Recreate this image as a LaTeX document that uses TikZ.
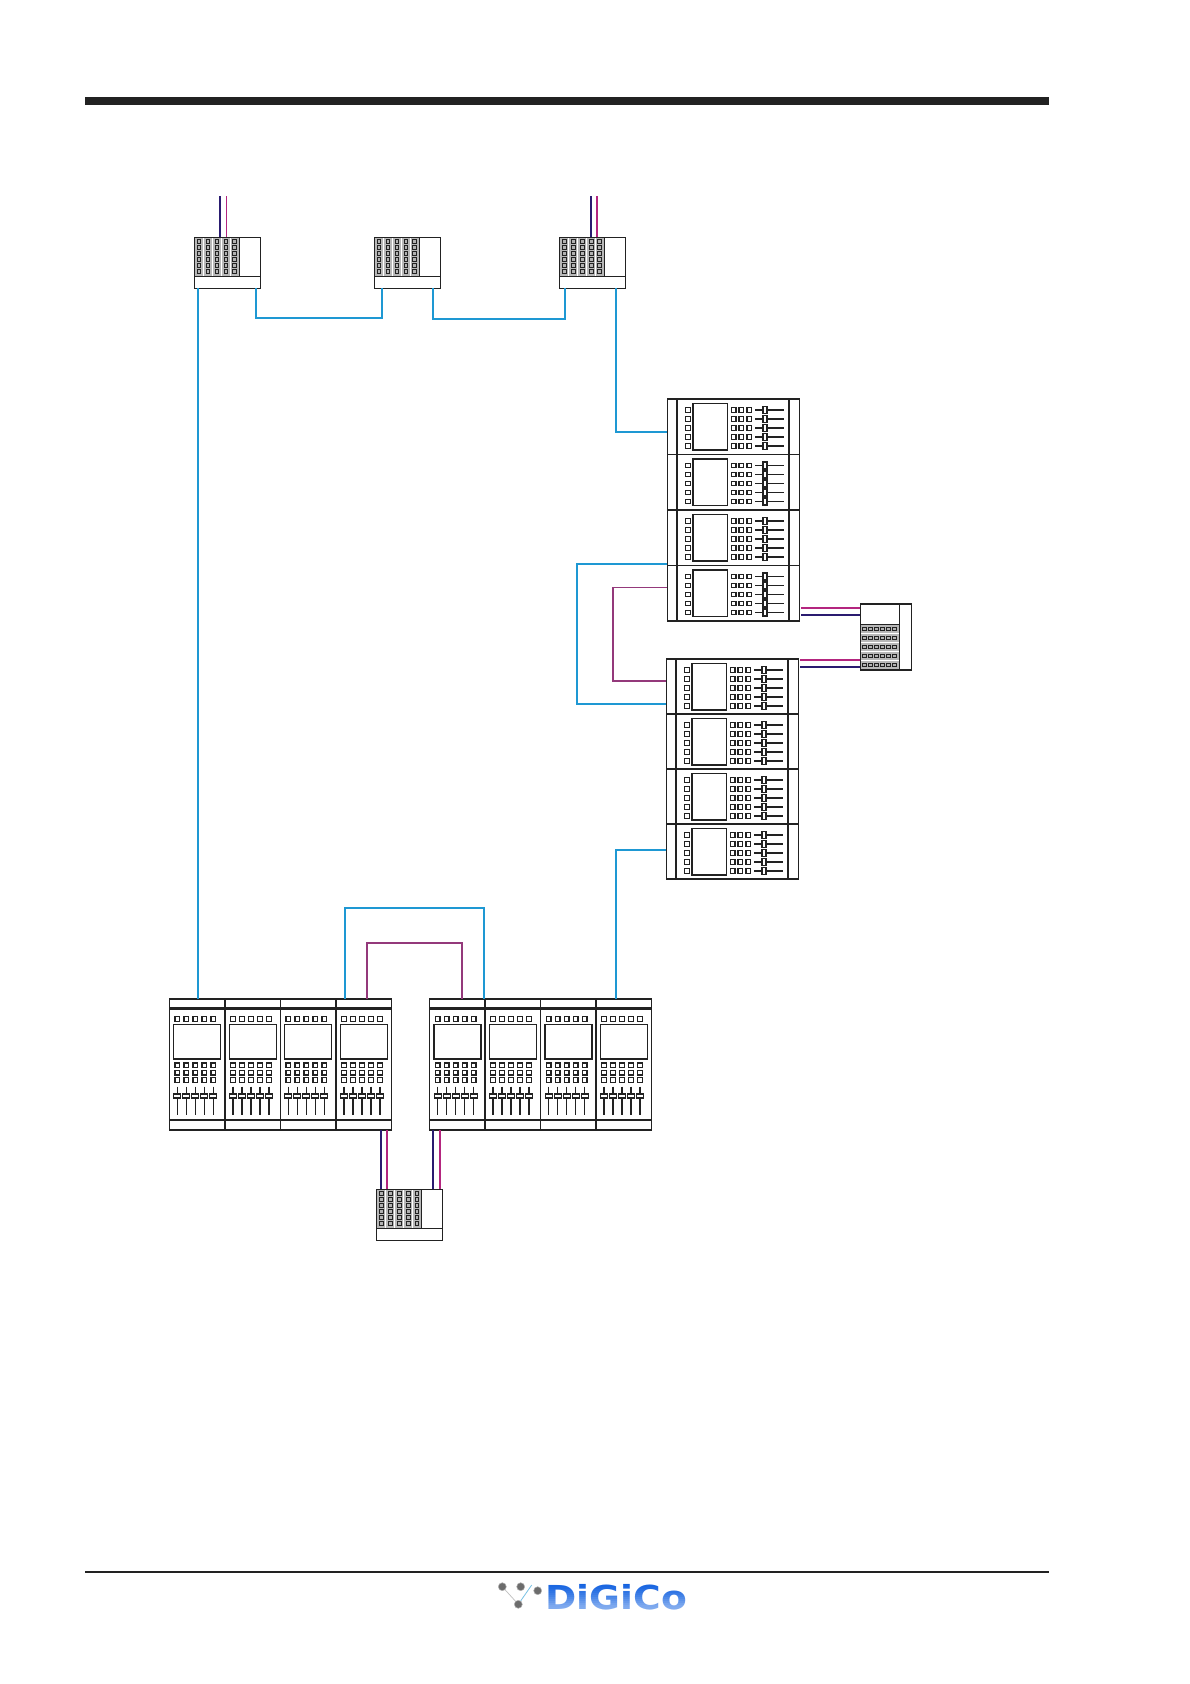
\documentclass[tikz,border=0pt]{standalone}
\usepackage{fontspec}
\usepackage{graphicx}
\setmainfont{DejaVu Sans}
\usetikzlibrary{calc}
\definecolor{cblue}{HTML}{1E98D3}
\definecolor{cnavy}{HTML}{2A1B70}
\definecolor{cmag}{HTML}{B4257F}
\definecolor{cpur}{HTML}{94397B}
\definecolor{cink}{HTML}{222222}
\definecolor{cgrey}{HTML}{B8B8B8}
\definecolor{clogo}{HTML}{0F5FE0}
\tikzset{
  devbox/.style={draw=cink,line width=1.6pt,fill=white,inner sep=0pt,outer sep=0pt,anchor=north west},
  thin line/.style={draw=cink,line width=1.4pt},
  heavy line/.style={draw=cink,line width=2.6pt},
  btn/.style={draw=cink,line width=1.2pt,fill=white},
  pad/.style={draw=cink,line width=1pt,fill=gray!60},
  bluewire/.style={draw=cblue,line width=2pt},
  navywire/.style={draw=cnavy,line width=1.9pt},
  magwire/.style={draw=cmag,line width=1.9pt},
  purwire/.style={draw=cpur,line width=1.8pt},
  ball/.style={circle,inner sep=0pt,minimum size=8pt,draw=gray!60,fill=gray!85!black,line width=.5pt},
}
\newcommand{\sq}[4][btn]{\draw[#1] (#2-#4/2,#3-#4/2) rectangle (#2+#4/2,#3+#4/2);}
% rack with pads on top
\newcommand{\hrackbox}[3]{%
  \node[devbox,minimum width=66pt,minimum height=51pt] (#1) at (#2,#3) {};
  \foreach \cx in {4.7,13.7,22.7,31.7,40.4}{
    \fill[cgrey] (#2+\cx-4,#3+1) rectangle (#2+\cx+4,#3+38.5);
    \foreach \cy in {4.4,10.4,16.4,22.4,28.4,34.4}{\sq[pad]{#2+\cx}{#3+\cy}{3.8}}
  }
  \draw[thin line] (#2,#3+39.4) -- (#2+66,#3+39.4);
  \draw[thin line] (#2+45,#3) -- (#2+45,#3+39.4);
}
% rack turned on its side
\newcommand{\srackbox}[3]{%
  \node[devbox,minimum width=51pt,minimum height=66pt] (#1) at (#2,#3) {};
  \foreach \cy in {25.3,34.3,43.3,52.3,61.3}{
    \fill[cgrey] (#2+1,#3+\cy-4) rectangle (#2+38.5,#3+\cy+4);
    \foreach \cx in {4.4,10.4,16.4,22.4,28.4,34.4}{\sq[pad]{#2+\cx}{#3+\cy}{3.8}}
  }
  \draw[thin line] (#2,#3+20.5) -- (#2+39,#3+20.5);
  \draw[thin line] (#2+39,#3) -- (#2+39,#3+66);
}
% one module of a console laid on its side
\newcommand{\sidemodule}[2]{%
  \foreach \ry in {11,20,29,38,47}{
    \sq{#1+20.5}{#2+\ry}{4.6}
    \sq{#1+66.3}{#2+\ry}{4.6}
    \sq{#1+74}{#2+\ry}{4.6}
    \sq{#1+82}{#2+\ry}{4.6}
    \draw[thin line,line width=1.2pt] (#1+88,#2+\ry) -- (#1+116.3,#2+\ry);
    \draw[btn] (#1+95.7,#2+\ry-3.5) rectangle (#1+99.7,#2+\ry+3.5);
  }
  \draw[thin line,fill=white] (#1+25.7,#2+4.3) rectangle (#1+60.3,#2+51);
}
% one upright module
\newcommand{\upmodule}[2]{%
  \foreach \rx in {8,17,26,35,44}{
    \sq{#1+\rx}{#2+20}{4.6}
    \sq{#1+\rx}{#2+66.3}{4.6}
    \sq{#1+\rx}{#2+73.7}{4.6}
    \sq{#1+\rx}{#2+81}{4.6}
    \draw[thin line] (#1+\rx,#2+87.7) -- (#1+\rx,#2+116);
    \draw[btn] (#1+\rx-3.5,#2+95) rectangle (#1+\rx+3.5,#2+99);
  }
  \draw[thin line,fill=white] (#1+4.4,#2+25.3) rectangle (#1+51.4,#2+60);
}
\newcommand{\sideconsole}[4]{% name,x,y,pitch
  \node[devbox,minimum width=132pt,minimum height=4*#4 pt] (#1) at (#2,#3) {};
  \foreach \k in {0,1,2,3}{
    \sidemodule{#2}{#3+\k*#4}
    \ifnum\k>0 \draw[thin line] (#2,#3+\k*#4) -- (#2+132,#3+\k*#4);\fi
  }
  \draw[heavy line] (#2+9.7,#3) -- (#2+9.7,#3+4*#4);
  \draw[thin line] (#2+121.7,#3) -- (#2+121.7,#3+4*#4);
}
\newcommand{\upconsole}[3]{% name,x,y
  \node[devbox,minimum width=222pt,minimum height=131pt] (#1) at (#2,#3) {};
  \foreach \k in {0,1,2,3}{
    \upmodule{#2+\k*55.5}{#3}
    \ifnum\k>0 \draw[thin line] (#2+\k*55.5,#3) -- (#2+\k*55.5,#3+131);\fi
  }
  \draw[heavy line] (#2,#3+9.3) -- (#2+222,#3+9.3);
  \draw[thin line] (#2,#3+121) -- (#2+222,#3+121);
}
\begin{document}
\begin{tikzpicture}[x=1pt,y=-1pt]
\useasboundingbox (0,0) rectangle (1190,1684);
\fill[white] (0,0) rectangle (1190,1684);
% page rules
\fill[cink] (85,97) rectangle (1049,105);
\fill[cink] (85,1571) rectangle (1049,1573);

% devices
\hrackbox{rackA}{194.3}{237.3}
\hrackbox{rackB}{374.3}{237.3}
\hrackbox{rackC}{559.4}{237.3}
\hrackbox{rackD}{376.5}{1189.3}
\srackbox{rackE}{860.3}{603.7}
\sideconsole{sideA}{667.3}{399}{55.5}
\sideconsole{sideB}{666.3}{659}{55}
\upconsole{upA}{169.3}{999}
\upconsole{upB}{429.6}{999}

% wires
\coordinate (feedA) at (220,196);
\coordinate (feedB) at (226.3,196);
\coordinate (feedC) at (591,196);
\coordinate (feedD) at (597,196);
\draw[navywire] (feedA) -- (feedA |- rackA.north);
\draw[magwire,line width=1.3pt] (feedB) -- (feedB |- rackA.north);
\draw[navywire] (feedC) -- (feedC |- rackC.north);
\draw[magwire] (feedD) -- (feedD |- rackC.north);

\draw[bluewire] ([xshift=3.2pt]rackA.south west) -- ([xshift=28.2pt]upA.north west);
\draw[bluewire] ([xshift=-4.3pt]rackA.south east) -- ++(0,29.5) -| ([xshift=7.4pt]rackB.south west);
\draw[bluewire] ([xshift=-7.3pt]rackB.south east) -- ++(0,31) -| ([xshift=5.6pt]rackC.south west);
\draw[bluewire] ([xshift=56.1pt]rackC.south west) |- ([yshift=-33pt]sideA.north west);
\draw[bluewire] ([yshift=-165pt]sideA.north west) -| ++(-90.6,139.5) -- ([yshift=-44.5pt]sideB.north west);
\draw[purwire] ([yshift=-188.5pt]sideA.north west) -| ++(-54,93.5) -- ([yshift=-22pt]sideB.north west);
\draw[bluewire] ([xshift=186pt]upB.north west) |- ([yshift=-190.5pt]sideB.north west);
\draw[bluewire] ([xshift=175.4pt]upA.north west) -- ++(0,-91.5) -| ([xshift=54.8pt]upB.north west);
\draw[purwire] ([xshift=198pt]upA.north west) -- ++(0,-56) -| ([xshift=32.2pt]upB.north west);

\draw[magwire] ([yshift=-4.3pt]rackE.north west) -- ++(-59.5,0);
\draw[navywire] ([yshift=-11pt]rackE.north west) -- ++(-59.5,0);
\draw[magwire] ([yshift=-56.3pt]rackE.north west) -- ++(-60,0);
\draw[navywire] ([yshift=-63pt]rackE.north west) -- ++(-60,0);

\draw[navywire] ([xshift=211.4pt]upA.south west) -- ([xshift=4.2pt]rackD.north west);
\draw[magwire] ([xshift=217.7pt]upA.south west) -- ([xshift=10.5pt]rackD.north west);
\draw[navywire] ([xshift=3.4pt]upB.south west) -- ([xshift=56.5pt]rackD.north west);
\draw[magwire] ([xshift=10.4pt]upB.south west) -- ([xshift=63.5pt]rackD.north west);

% logo
\coordinate (skyend) at (531.7,1585);
\node[ball] (b1) at (502.3,1586.7) {};
\node[ball] (b2) at (520.7,1586.7) {};
\node[ball] (b3) at (537.7,1590.7) {};
\node[ball] (b4) at (518.3,1604.3) {};
\draw[gray!50,line width=.7pt] (b1) -- (b4);
\draw[cblue!60,line width=.8pt] (b4) -- (skyend);
\node[text=clogo,font=\bfseries\fontsize{33}{33}\selectfont,inner sep=0pt,anchor=base west] (logotext) at (545.5,1609)
  {\scalebox{1.14}[1]{DiGiCo}};
% paler toward the foot of the letters
\foreach \k/\op in {0/.0,1/.02,2/.05,3/.08,4/.11,5/.14,6/.18,7/.22,8/.27,9/.32,10/.37,11/.42,12/.46,13/.48,14/.30}{
  \fill[white,opacity=\op] (544,1581+2*\k) rectangle (690,1583+2*\k);
}
\end{tikzpicture}
\end{document}
